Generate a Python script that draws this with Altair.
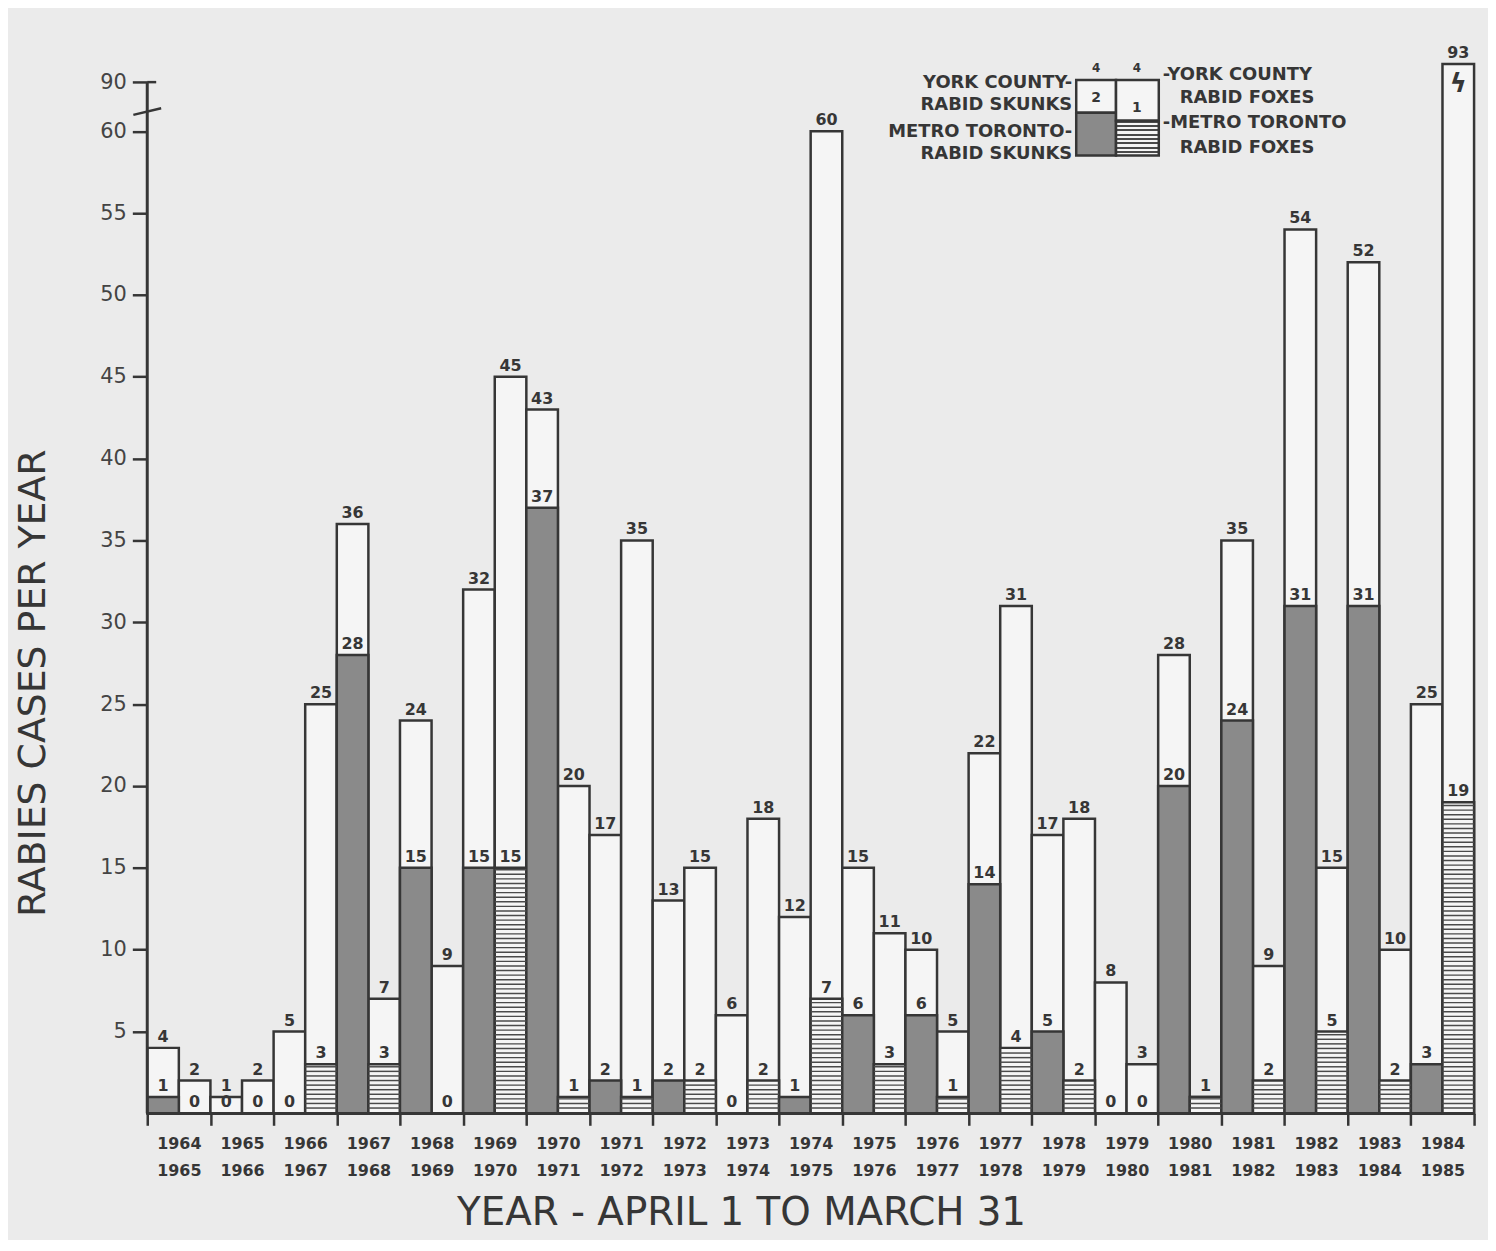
import altair as alt
import pandas as pd

# ---------------- data ----------------
years = ["1964-1965", "1965-1966", "1966-1967", "1967-1968", "1968-1969", "1969-1970",
         "1970-1971", "1971-1972", "1972-1973", "1973-1974", "1974-1975", "1975-1976",
         "1976-1977", "1977-1978", "1978-1979", "1979-1980", "1980-1981", "1981-1982",
         "1982-1983", "1983-1984", "1984-1985"]
skunk_total = [4, 1, 5, 36, 24, 32, 43, 17, 13, 6, 12, 15, 10, 22, 17, 8, 28, 35, 54, 52, 25]
skunk_metro = [1, 0, 0, 28, 15, 15, 37, 2, 2, 0, 1, 6, 6, 14, 5, 0, 20, 24, 31, 31, 3]
fox_total = [2, 2, 25, 7, 9, 45, 20, 35, 15, 18, 60, 11, 5, 31, 18, 3, 1, 9, 15, 10, 93]
fox_metro = [0, 0, 3, 3, 0, 15, 1, 1, 2, 2, 7, 3, 1, 4, 2, 0, 1, 2, 5, 2, 19]
species = ["skunk", "fox"]
y_ticks = [5, 10, 15, 20, 25, 30, 35, 40, 45, 50, 55, 60]
y_top_tick = 90

# broken axis: values above 60 are drawn compressed
BREAK_LOW = 60
BREAK_POS = 63.0      # where 90 sits on the drawn scale
BREAK_SLOPE = 0.37
Y_MAX = 65.2
brk = lambda f: f"datum.{f} <= {BREAK_LOW} ? datum.{f} : {BREAK_POS} + (datum.{f} - {y_top_tick}) * {BREAK_SLOPE}"

rows = []
for i, y in enumerate(years):
    rows.append({"year": y, "species": "skunk", "total": skunk_total[i], "metro": skunk_metro[i]})
    rows.append({"year": y, "species": "fox", "total": fox_total[i], "metro": fox_metro[i]})
df = pd.DataFrame(rows)

# horizontal hatching of the Metro Toronto fox segments (pattern only)
STEP = 0.28
stripes = []
for i, y in enumerate(years):
    k = 1
    while k * STEP < fox_metro[i] - 0.12:
        stripes.append({"year": y, "species": "fox", "s": k * STEP, "s2": k * STEP + 0.09})
        k += 1
sdf = pd.DataFrame(stripes)
one = pd.DataFrame({"k": [0]})

FONT = "DejaVu Sans"
INK = "#363636"
PAPER = "#f5f5f5"
DARK = "#8a8a8a"

yscale = alt.Scale(domain=[0, Y_MAX], nice=False, zero=True)
yaxis = alt.Axis(values=y_ticks + [BREAK_POS], title="RABIES CASES PER YEAR",
                 labelExpr=f"datum.value > 61 ? '{y_top_tick}' : datum.label",
                 titleFont=FONT, titleFontSize=38, titleFontWeight="normal",
                 titleColor=INK, titleX=-114, titleY=640, titleAngle=270,
                 titleBaseline="middle",
                 labelFont=FONT, labelFontSize=21, labelColor="#444",
                 tickSize=15, tickWidth=2.5, tickColor=INK, labelPadding=6,
                 domain=False, grid=False)
xaxis = alt.Axis(title="YEAR - APRIL 1 TO MARCH 31", titleFontSize=39, titleFont=FONT,
                 titleFontWeight="normal", titleColor=INK, titleX=597, titleY=100,
                 titleBaseline="middle", labelAngle=0,
                 labelExpr="split(datum.label, '-')", labelFont=FONT,
                 labelFontSize=16, labelFontWeight="bold", labelColor=INK,
                 labelLineHeight=27, labelPadding=10, tickBand="extent",
                 tickSize=12, tickWidth=2.5, tickColor=INK,
                 domainColor=INK, domainWidth=2.5, grid=False)
xenc = alt.X("year:N", sort=years, scale=alt.Scale(paddingInner=0, paddingOuter=0), axis=xaxis)
xoff = alt.XOffset("species:N", sort=species,
                   scale=alt.Scale(domain=species, paddingInner=0, paddingOuter=0))


def Y(field=None, datum=None):
    if datum is not None:
        return alt.Y(datum=datum, type="quantitative", scale=yscale, axis=yaxis)
    return alt.Y(field, type="quantitative", scale=yscale, axis=yaxis)


base = alt.Chart(df).transform_calculate(t_disp=brk("total"), m_disp=brk("metro"))

full = base.mark_bar(fill=PAPER, stroke=INK, strokeWidth=2.5).encode(
    x=xenc, xOffset=xoff, y=Y("t_disp"))

metro = base.mark_bar(stroke=INK, strokeWidth=2.5).encode(
    x=xenc, xOffset=xoff, y=Y("m_disp"),
    fill=alt.Fill("species:N", scale=alt.Scale(domain=species, range=[DARK, PAPER]), legend=None))

hatch = alt.Chart(sdf).mark_bar(color="#4a4a4a").encode(
    x=xenc, xOffset=xoff, y=Y("s"), y2="s2:Q")

tlab = base.mark_text(baseline="bottom", dy=-3, font=FONT, fontSize=16, fontWeight="bold",
                      color=INK).encode(
    x=xenc, xOffset=xoff, y=Y("t_disp"), text="total:Q")

mlab = base.transform_filter("datum.metro < datum.total").mark_text(
    baseline="bottom", dy=-3, font=FONT, fontSize=16, fontWeight="bold", color=INK).encode(
    x=xenc, xOffset=xoff, y=Y("m_disp"), text="metro:Q")

# y axis line, top serif and break mark
axis_line = alt.Chart(one).mark_rule(color=INK, strokeWidth=3).encode(
    x=alt.value(0), y=Y(datum=0), y2=alt.datum(BREAK_POS))
top_serif = alt.Chart(one).mark_rule(color=INK, strokeWidth=2.5).encode(
    x=alt.value(0), x2=alt.value(9), y=Y(datum=BREAK_POS))
break1 = alt.Chart(one).mark_rule(color=INK, strokeWidth=2.5).encode(
    x=alt.value(-14), x2=alt.value(14), y=Y(datum=61.0), y2=alt.datum(61.4))
zig = alt.Chart(pd.DataFrame({"year": [years[-1]], "species": ["fox"]})).mark_text(
    text="ϟ", font=FONT, fontSize=26, fontWeight="bold", color=INK).encode(
    x=xenc, xOffset=xoff, y=Y(datum=62.9))


# ---------------- legend (upper right) ----------------
def box(x1, x2, y1, y2, fill):
    return alt.Chart(one).mark_rect(fill=fill, stroke=INK, strokeWidth=2.5).encode(
        x=alt.value(x1), x2=alt.value(x2), y=alt.value(y1), y2=alt.value(y2))


def txt(s, x, y, align="center", size=18):
    return alt.Chart(one).mark_text(text=s, align=align, baseline="middle", font=FONT,
                                    fontSize=size, fontWeight="bold", color=INK).encode(
        x=alt.value(x), y=alt.value(y))


stops = []
n = 8
for j in range(n):
    a = j / n
    b = a + 0.45 / n
    stops += [alt.GradientStop(color="#4a4a4a", offset=a), alt.GradientStop(color="#4a4a4a", offset=b),
              alt.GradientStop(color=PAPER, offset=b), alt.GradientStop(color=PAPER, offset=(j + 1) / n)]
hatch_fill = alt.LinearGradient(gradient="linear", stops=stops, x1=0, y1=0, x2=0, y2=1)

legend = [
    box(934, 974, 34, 67, PAPER), box(934, 974, 67, 110, DARK),
    box(974, 1017, 34, 75, PAPER), box(974, 1017, 75, 110, hatch_fill),
    txt("4", 954, 22, size=12), txt("4", 995, 22, size=12),
    txt("2", 954, 52, size=14), txt("1", 995, 62, size=14),
    txt("YORK COUNTY-", 930, 37, "right"), txt("RABID SKUNKS", 930, 59, "right"),
    txt("METRO TORONTO-", 930, 86, "right"), txt("RABID SKUNKS", 930, 108, "right"),
    txt("-YORK COUNTY", 1021, 29, "left"), txt("RABID FOXES", 1038, 52, "left"),
    txt("-METRO TORONTO", 1021, 77, "left"), txt("RABID FOXES", 1038, 102, "left"),
]

chart = alt.layer(full, metro, hatch, tlab, mlab, axis_line, top_serif, break1, zig,
                  *legend).properties(
    width=1334, height=1073,
    padding={"left": 140, "top": 35, "right": 14, "bottom": 124},
    autosize=alt.AutoSizeParams(type="none"),
    background="#ebebeb",
).configure_view(stroke=None)

chart.save("out.html", embed_options={"renderer": "svg", "actions": False})
